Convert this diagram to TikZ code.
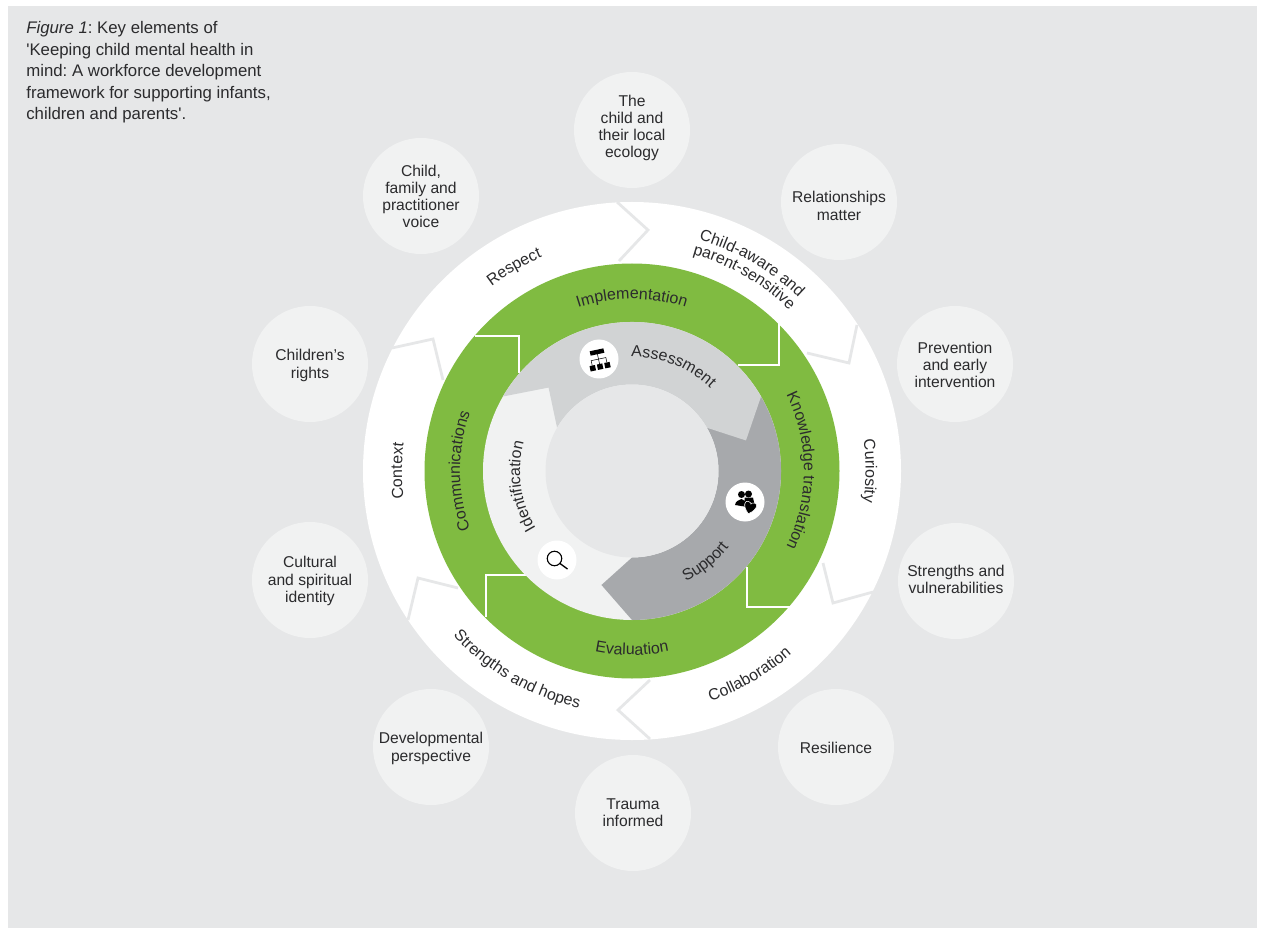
\documentclass[tikz,border=0pt]{standalone}
\usepackage{fontspec}
\setmainfont{Liberation Sans}
\usetikzlibrary{decorations.text}

\definecolor{panelgrey}{HTML}{E6E7E8}
\definecolor{bubblegrey}{HTML}{F1F2F2}
\definecolor{ringgreen}{HTML}{80BB41}
\definecolor{assessgrey}{HTML}{D1D3D4}
\definecolor{supportgrey}{HTML}{A7A9AC}
\definecolor{inkgrey}{HTML}{2B2B2D}

\newcommand{\bubblefont}{\fontsize{8.9}{9.8}\selectfont}
\newcommand{\captionfont}{\fontsize{9.55}{12.3}\selectfont\frenchspacing}
\newcommand{\arcfont}{\fontsize{9.1}{9.8}\selectfont\color{inkgrey}}

\tikzset{
	bubble/.style={circle, fill=bubblegrey, minimum size=2.32cm, inner sep=0pt},
	bubbletext/.style={inner sep=0pt, align=center, text=inkgrey, font=\bubblefont},
	chevron/.style={draw=panelgrey, line width=0.055cm},
	notch/.style={draw=white, line width=0.055cm},
	iconspot/.style={circle, fill=white, minimum size=0.78cm, inner sep=0pt},
}

% radius, middle angle, text
\newcommand{\cwlabel}[3]{\path [decorate, decoration={text along path, text align=center, text={|\arcfont|#3}}] (#2+80:#1) arc [start angle=#2+80, end angle=#2-80, radius=#1];}
\newcommand{\ccwlabel}[3]{\path [decorate, decoration={text along path, text align=center, text={|\arcfont|#3}}] (#2-80:#1) arc [start angle=#2-80, end angle=#2+80, radius=#1];}

\begin{document}
\begin{tikzpicture}
	\useasboundingbox (-12.64,9.42) rectangle (12.60,-9.14);
	\fill [panelgrey] (-12.48,9.30) rectangle (12.50,-9.14);

	\node [anchor=north west, inner sep=0pt, align=left, text=inkgrey, font=\captionfont] (caption) at (-12.12,9.00) {\textit{Figure 1}: Key elements of\\\textquotesingle Keeping child mental health in\\mind: A workforce development\\framework for supporting infants,\\children and parents\textquotesingle.};

	% outer bubbles
	\node [bubble, label={[bubbletext, yshift=0.04cm]center:The\\child and\\their local\\ecology}] (ecology) at (0,6.82) {};
	\node [bubble, label={[bubbletext, yshift=-0.08cm]center:Relationships\\matter}] (relationships) at (4.14,5.38) {};
	\node [bubble, label={[bubbletext, yshift=-0.02cm]center:Prevention\\and early\\intervention}] (prevention) at (6.46,2.14) {};
	\node [bubble, label={[bubbletext, yshift=0.03cm]center:Strengths and\\vulnerabilities}] (vulnerabilities) at (6.48,-2.20) {};
	\node [bubble, label={[bubbletext, yshift=-0.02cm]center:Resilience}] (resilience) at (4.08,-5.52) {};
	\node [bubble, label={[bubbletext]center:Trauma\\informed}] (trauma) at (0.02,-6.84) {};
	\node [bubble, label={[bubbletext, yshift=-0.03cm]center:Developmental\\perspective}] (developmental) at (-4.02,-5.52) {};
	\node [bubble, label={[bubbletext, yshift=-0.02cm]center:Cultural\\and spiritual\\identity}] (cultural) at (-6.44,-2.18) {};
	\node [bubble, label={[bubbletext, yshift=-0.03cm]center:Children’s\\rights}] (rights) at (-6.44,2.14) {};
	\node [bubble, label={[bubbletext, yshift=-0.01cm]center:Child,\\family and\\practitioner\\voice}] (voice) at (-4.22,5.50) {};

	% white ring and its chevrons
	\fill [white] (0,0) circle (5.38);
	\draw [chevron] (-0.30,5.38) -- (0.32,4.82) -- (-0.26,4.20);
	\draw [chevron] (4.50,2.92) -- (4.34,2.16) -- (3.50,2.36);
	\draw [chevron] (3.82,-1.84) -- (4.02,-2.64) -- (4.82,-2.42);
	\draw [chevron] (0.36,-4.18) -- (-0.28,-4.78) -- (0.36,-5.36);
	\draw [chevron] (-4.48,-2.98) -- (-4.28,-2.14) -- (-3.48,-2.34);
	\draw [chevron] (-4.80,2.46) -- (-3.98,2.64) -- (-3.78,1.82);

	% green ring and its notches
	\fill [ringgreen] (0,0) circle (4.15);
	\draw [notch] (-3.14,2.70) -- (-2.26,2.70) -- (-2.26,1.96);
	\draw [notch] (2.94,2.98) -- (2.94,2.12) -- (2.12,2.12);
	\draw [notch] (2.30,-1.92) -- (2.30,-2.72) -- (3.16,-2.72);
	\draw [notch] (-2.92,-2.92) -- (-2.92,-2.08) -- (-2.10,-2.08);

	% inner arrows
	\fill [bubblegrey] (0,0) circle (2.98);
	\fill [supportgrey] (30:2.98) arc [start angle=30, end angle=-90, radius=2.98] -- (-105:2.36) -- (-90:1.73) arc [start angle=-90, end angle=30, radius=1.73] -- cycle;
	\fill [assessgrey] (150:2.98) arc [start angle=150, end angle=30, radius=2.98] -- (15:2.36) -- (30:1.73) arc [start angle=30, end angle=150, radius=1.73] -- (135:2.36) -- cycle;
	\fill [panelgrey] (0,0) circle (1.73);

	% labels on the rings
	\cwlabel{4.64}{120}{Respect}
	\cwlabel{4.81}{60}{Child-aware and}
	\cwlabel{4.50}{60}{parent-sensitive}
	\cwlabel{4.67}{0}{Curiosity}
	\ccwlabel{4.86}{-60}{Collaboration}
	\ccwlabel{4.86}{-120}{Strengths and hopes}
	\cwlabel{4.60}{180}{Context}
	\cwlabel{3.44}{90}{Implementation}
	\cwlabel{3.44}{0}{Knowledge translation}
	\ccwlabel{3.68}{-90}{Evaluation}
	\cwlabel{3.44}{180}{Communications}
	\cwlabel{2.28}{68.5}{Assessment}
	\ccwlabel{2.46}{-51}{Support}
	\cwlabel{2.24}{188}{Identification}

	% icons
	\node [iconspot] (assessspot) at (-0.66,2.24) {};
	\begin{scope}[shift={(assessspot.center)}, rotate=12]
		\fill (-0.15,0.10) rectangle (0.13,0.19);
		\draw [line width=0.3pt] (-0.01,0.10) -- (-0.01,0) (-0.16,-0.10) -- (-0.16,0) -- (0.14,0) -- (0.14,-0.10) (-0.01,0) -- (-0.01,-0.10);
		\fill (-0.215,-0.21) rectangle (-0.105,-0.10);
		\fill (-0.065,-0.21) rectangle (0.045,-0.10);
		\fill (0.085,-0.21) rectangle (0.195,-0.10);
	\end{scope}
	\node [iconspot] (supportspot) at (2.26,-0.62) {};
	\begin{scope}[shift={(supportspot.center)}]
		\fill (0.07,0.16) circle (0.07);
		\fill (-0.01,0.09) -- (0.16,0.09) -- (0.19,-0.05) -- (0,-0.07) -- cycle;
		\fill (-0.07,0.15) circle (0.07);
		\fill (-0.20,-0.06) .. controls (-0.19,0.02) and (-0.12,0.04) .. (-0.07,0.06) .. controls (-0.02,0.04) and (0.04,0.02) .. (0.05,-0.10) -- cycle;
		\begin{scope}[shift={(0.10,-0.11)}, rotate=-15]
			\fill [draw=white, line width=0.3pt] (0,-0.13) .. controls (-0.16,0) and (-0.14,0.12) .. (-0.06,0.11) .. controls (-0.02,0.11) and (0,0.08) .. (0,0.07) .. controls (0,0.08) and (0.02,0.11) .. (0.06,0.11) .. controls (0.14,0.12) and (0.16,0) .. (0,-0.13);
		\end{scope}
	\end{scope}
	\node [iconspot] (identifyspot) at (-1.50,-1.78) {};
	\begin{scope}[shift={(identifyspot.center)}]
		\draw [line width=0.65pt] (-0.05,0.03) circle (0.145);
		\draw [line width=0.75pt] (0.06,-0.07) -- (0.21,-0.18);
	\end{scope}
\end{tikzpicture}
\end{document}
